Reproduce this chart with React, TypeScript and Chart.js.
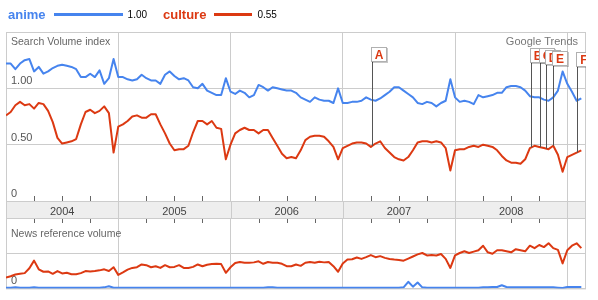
import React, { useEffect, useRef } from 'react';
import { Chart, registerables } from 'chart.js';

Chart.register(...registerables);

// ---- data (half-month periods starting Jan 2004) ----
const yearLabels = ['2004', '2005', '2006', '2007', '2008'];
const periodsPerYear = 24;
const xMax = 124;

const legendTerms = ['anime', 'culture'];
const legendTotals = [1.0, 0.55];

const animeSearch = [
  1.22, 1.22, 1.17, 1.22, 1.25, 1.26, 1.15, 1.19, 1.13, 1.15,
  1.18, 1.20, 1.21, 1.20, 1.19, 1.17, 1.10, 1.10, 1.13, 1.10,
  1.16, 1.04, 1.09, 1.26, 1.10, 1.10, 1.08, 1.07, 1.08, 1.12,
  1.09, 1.07, 1.07, 1.04, 1.12, 1.15, 1.11, 1.08, 1.09, 1.07,
  1.01, 1.00, 1.04, 0.98, 0.96, 0.94, 0.94, 1.09, 0.97, 0.95,
  0.98, 0.96, 0.92, 0.94, 1.03, 1.01, 0.98, 1.01, 1.00, 0.99,
  0.98, 0.98, 0.96, 0.92, 0.90, 0.88, 0.92, 0.90, 0.89, 0.89,
  0.87, 1.00, 0.87, 0.87, 0.88, 0.88, 0.89, 0.92, 0.90, 0.89,
  0.91, 0.94, 0.97, 1.01, 1.01, 0.98, 0.95, 0.92, 0.87, 0.86,
  0.88, 0.87, 0.84, 0.87, 0.89, 1.08, 0.92, 0.88, 0.89, 0.88,
  0.86, 0.94, 0.92, 0.93, 0.94, 0.96, 0.96, 1.01, 1.02, 1.02,
  1.01, 0.98, 0.93, 0.92, 0.92, 0.90, 0.89, 0.92, 0.98, 1.15,
  1.04, 0.97, 0.89, 0.91,
];

const cultureSearch = [
  0.76, 0.79, 0.85, 0.88, 0.85, 0.86, 0.82, 0.87, 0.86, 0.80,
  0.70, 0.56, 0.51, 0.52, 0.53, 0.55, 0.68, 0.79, 0.81, 0.78,
  0.80, 0.84, 0.78, 0.43, 0.66, 0.68, 0.71, 0.75, 0.76, 0.74,
  0.74, 0.77, 0.77, 0.68, 0.60, 0.51, 0.45, 0.46, 0.46, 0.49,
  0.61, 0.71, 0.71, 0.68, 0.71, 0.65, 0.64, 0.37, 0.50, 0.60,
  0.63, 0.65, 0.63, 0.63, 0.60, 0.63, 0.63, 0.56, 0.49, 0.42,
  0.38, 0.39, 0.38, 0.45, 0.54, 0.57, 0.58, 0.58, 0.57, 0.53,
  0.48, 0.37, 0.47, 0.49, 0.51, 0.52, 0.52, 0.51, 0.48, 0.51,
  0.53, 0.47, 0.43, 0.39, 0.37, 0.36, 0.39, 0.45, 0.52, 0.53,
  0.53, 0.52, 0.53, 0.52, 0.47, 0.27, 0.45, 0.46, 0.46, 0.48,
  0.49, 0.48, 0.50, 0.49, 0.48, 0.45, 0.40, 0.36, 0.34, 0.34,
  0.33, 0.37, 0.47, 0.49, 0.48, 0.47, 0.46, 0.49, 0.41, 0.26,
  0.39, 0.41, 0.43, 0.45,
];

const animeNews = [
  0.02, 0.02, 0.03, 0.02, 0.02, 0.02, 0.03, 0.02, 0.02, 0.02,
  0.02, 0.02, 0.02, 0.02, 0.02, 0.02, 0.02, 0.02, 0.02, 0.02,
  0.02, 0.03, 0.06, 0.02, 0.02, 0.02, 0.02, 0.02, 0.02, 0.02,
  0.02, 0.02, 0.02, 0.02, 0.02, 0.02, 0.02, 0.02, 0.02, 0.02,
  0.02, 0.02, 0.02, 0.02, 0.02, 0.02, 0.02, 0.02, 0.02, 0.02,
  0.02, 0.02, 0.02, 0.02, 0.02, 0.02, 0.03, 0.03, 0.02, 0.02,
  0.02, 0.02, 0.02, 0.02, 0.02, 0.02, 0.02, 0.02, 0.02, 0.02,
  0.02, 0.02, 0.02, 0.02, 0.02, 0.02, 0.02, 0.02, 0.02, 0.02,
  0.02, 0.02, 0.02, 0.02, 0.02, 0.03, 0.19, 0.05, 0.17, 0.03,
  0.02, 0.02, 0.02, 0.02, 0.02, 0.02, 0.02, 0.02, 0.02, 0.02,
  0.02, 0.02, 0.03, 0.03, 0.04, 0.04, 0.09, 0.04, 0.03, 0.03,
  0.03, 0.03, 0.03, 0.03, 0.03, 0.03, 0.03, 0.03, 0.02, 0.01,
  0.04, 0.04, 0.04, 0.04,
];

const cultureNews = [
  0.31, 0.35, 0.40, 0.42, 0.44, 0.58, 0.80, 0.55, 0.48, 0.49,
  0.42, 0.50, 0.43, 0.45, 0.41, 0.41, 0.44, 0.50, 0.49, 0.50,
  0.52, 0.55, 0.50, 0.61, 0.39, 0.46, 0.54, 0.59, 0.61, 0.69,
  0.67, 0.61, 0.64, 0.59, 0.67, 0.61, 0.62, 0.67, 0.59, 0.59,
  0.62, 0.69, 0.64, 0.68, 0.70, 0.71, 0.70, 0.45, 0.61, 0.73,
  0.76, 0.74, 0.74, 0.75, 0.78, 0.71, 0.76, 0.74, 0.74, 0.71,
  0.64, 0.64, 0.69, 0.65, 0.74, 0.76, 0.74, 0.77, 0.75, 0.76,
  0.64, 0.48, 0.72, 0.83, 0.84, 0.89, 0.85, 0.90, 0.96, 0.90,
  0.93, 0.88, 0.85, 0.83, 0.82, 0.80, 0.86, 0.92, 0.98, 1.02,
  0.95, 0.96, 0.95, 0.99, 0.85, 0.59, 0.95, 1.02, 1.07, 1.02,
  1.06, 1.10, 1.23, 1.04, 1.00, 1.10, 1.10, 1.07, 1.04, 1.13,
  1.10, 1.07, 1.23, 1.16, 1.25, 1.19, 1.30, 1.16, 1.11, 0.72,
  1.10, 1.23, 1.30, 1.16,
];

const flagLetters = ['A', 'B', 'C', 'D', 'E', 'F'];
const flagPeriods = [78.3, 112.3, 114.2, 115.5, 117.0, 122.0];

// ---- styles ----
const BLUE = '#4684ee';
const RED = '#dc3912';
const GRID = '#cccccc';
const FONT = "'Liberation Sans', Arial, Helvetica, sans-serif";
const FLAG_TOPS = [47, 48, 48, 50, 51, 52];

const toPoints = (arr: number[]) => arr.map((v, i) => ({ x: i, y: v }));
const yearBoundaries = () => yearLabels.map((_, k) => (k + 1) * periodsPerYear);
const quarterTicks = () => {
  const out: number[] = [];
  for (let q = 6; q < xMax; q += 6) if (q % periodsPerYear !== 0) out.push(q);
  return out;
};

const cultureAt = (p: number) => {
  const i0 = Math.floor(p);
  const f = p - i0;
  const a = cultureSearch[Math.min(i0, cultureSearch.length - 1)];
  const b = cultureSearch[Math.min(i0 + 1, cultureSearch.length - 1)];
  return a * (1 - f) + b * f;
};

const mainChrome = {
  id: 'mainChrome',
  beforeDraw(chart: any) {
    const { ctx, chartArea: a, scales } = chart;
    const xs = scales.x;
    ctx.save();
    const bandTop = a.bottom;
    const bandH = 18;
    ctx.fillStyle = '#eeeeee';
    ctx.fillRect(a.left, bandTop, a.right - a.left, bandH);
    ctx.strokeStyle = GRID;
    ctx.lineWidth = 1;
    ctx.beginPath();
    ctx.moveTo(a.left + 0.5, bandTop);
    ctx.lineTo(a.left + 0.5, bandTop + bandH);
    ctx.moveTo(a.right - 0.5, bandTop);
    ctx.lineTo(a.right - 0.5, bandTop + bandH);
    ctx.moveTo(a.left, bandTop + bandH - 0.5);
    ctx.lineTo(a.right, bandTop + bandH - 0.5);
    yearBoundaries().forEach((v) => {
      const px = Math.round(xs.getPixelForValue(v)) + 0.5;
      ctx.moveTo(px, bandTop);
      ctx.lineTo(px, bandTop + bandH);
    });
    ctx.stroke();
    ctx.restore();
  },
  beforeDatasetsDraw(chart: any) {
    const { ctx, chartArea: a, scales } = chart;
    const xs = scales.x;
    ctx.save();
    ctx.strokeStyle = GRID;
    ctx.lineWidth = 1;
    ctx.strokeRect(a.left + 0.5, a.top + 0.5, a.right - a.left - 1, a.bottom - a.top);
    ctx.strokeStyle = '#666666';
    ctx.beginPath();
    quarterTicks().forEach((v) => {
      const px = Math.round(xs.getPixelForValue(v)) + 0.5;
      ctx.moveTo(px, a.bottom - 5);
      ctx.lineTo(px, a.bottom);
    });
    ctx.stroke();
    ctx.restore();
  },
  afterDatasetsDraw(chart: any) {
    const { ctx, chartArea: a, scales } = chart;
    const xs = scales.x;
    const ys = scales.y;
    ctx.save();
    ctx.beginPath();
    ctx.rect(a.left, a.top, a.right - a.left, a.bottom - a.top);
    ctx.clip();
    flagLetters.forEach((letter, k) => {
      const p = flagPeriods[k];
      const lx = Math.round(xs.getPixelForValue(p)) + 0.5;
      const ly = ys.getPixelForValue(cultureAt(p));
      const top = FLAG_TOPS[k];
      const w = 16;
      const h = 15;
      const bx = lx - 1.5;
      ctx.strokeStyle = '#555555';
      ctx.lineWidth = 1;
      ctx.beginPath();
      ctx.moveTo(lx, top + h);
      ctx.lineTo(lx, ly);
      ctx.stroke();
      ctx.fillStyle = 'rgba(0,0,0,0.22)';
      ctx.fillRect(bx + 1, top + 1, w, h);
      ctx.fillStyle = '#ffffff';
      ctx.fillRect(bx, top, w, h);
      ctx.strokeStyle = '#b0b0b0';
      ctx.strokeRect(bx + 0.5, top + 0.5, w - 1, h - 1);
      ctx.fillStyle = RED;
      ctx.font = `bold 12px ${FONT}`;
      ctx.textAlign = 'center';
      ctx.textBaseline = 'middle';
      ctx.fillText(letter, bx + w / 2, top + h / 2 + 1);
    });
    ctx.restore();
  },
};

const newsChrome = {
  id: 'newsChrome',
  beforeDatasetsDraw(chart: any) {
    const { ctx, chartArea: a, scales } = chart;
    const xs = scales.x;
    ctx.save();
    ctx.strokeStyle = GRID;
    ctx.lineWidth = 1;
    ctx.strokeRect(a.left + 0.5, a.top - 0.5, a.right - a.left - 1, a.bottom - a.top + 1);
    ctx.strokeStyle = '#666666';
    ctx.beginPath();
    quarterTicks().forEach((v) => {
      const px = Math.round(xs.getPixelForValue(v)) + 0.5;
      ctx.moveTo(px, a.top);
      ctx.lineTo(px, a.top + 4);
    });
    ctx.stroke();
    ctx.restore();
  },
};

const lineDs = (label: string, arr: number[], color: string) => ({
  label,
  data: toPoints(arr),
  borderColor: color,
  backgroundColor: color,
  borderWidth: 2,
  pointRadius: 0,
  tension: 0,
  fill: false,
  borderJoinStyle: 'round' as const,
});

const tickFont = { family: FONT, size: 11 };

export default function App() {
  const mainRef = useRef<HTMLCanvasElement>(null);
  const newsRef = useRef<HTMLCanvasElement>(null);

  useEffect(() => {
    const main = new Chart(mainRef.current as HTMLCanvasElement, {
      type: 'line',
      data: {
        datasets: [
          lineDs(legendTerms[0], animeSearch, BLUE),
          lineDs(legendTerms[1], cultureSearch, RED),
        ],
      },
      options: {
        animation: false,
        responsive: false,
        devicePixelRatio: 1,
        events: [],
        layout: { padding: { left: 6, top: 32, right: 12, bottom: 81 } },
        plugins: { legend: { display: false }, tooltip: { enabled: false } },
        scales: {
          x: {
            type: 'linear',
            min: 0,
            max: xMax,
            position: 'bottom',
            afterBuildTicks: (s: any) => {
              s.ticks = yearLabels.map((_, k) => ({ value: k * periodsPerYear + periodsPerYear / 2 }));
            },
            afterFit: (s: any) => { s.height = 18; },
            ticks: {
              autoSkip: false,
              maxRotation: 0,
              padding: 4,
              color: '#444444',
              font: tickFont,
              callback: (v: any) => yearLabels[Math.floor(Number(v) / periodsPerYear)] ?? '',
            },
            grid: { display: false, drawTicks: false },
            border: { display: false },
          },
          xGrid: {
            type: 'linear',
            axis: 'x',
            min: 0,
            max: xMax,
            position: 'bottom',
            afterBuildTicks: (s: any) => { s.ticks = yearBoundaries().map((v) => ({ value: v })); },
            afterFit: (s: any) => { s.height = 0; },
            ticks: { display: false },
            grid: { color: GRID, drawTicks: false },
            border: { display: false },
          },
          y: {
            min: 0,
            max: 1.5,
            afterBuildTicks: (s: any) => { s.ticks = [0, 0.5, 1.0, 1.5].map((v) => ({ value: v })); },
            afterFit: (s: any) => { s.width = 0; },
            ticks: {
              mirror: true,
              padding: 5,
              labelOffset: -7,
              color: '#555555',
              font: tickFont,
              callback: (v: any) => (Number(v) === 0 ? '0' : Number(v) >= 1.5 ? '' : Number(v).toFixed(2)),
            },
            grid: { color: GRID, drawTicks: false },
            border: { display: false },
          },
        },
      } as any,
      plugins: [mainChrome],
    });

    const news = new Chart(newsRef.current as HTMLCanvasElement, {
      type: 'line',
      data: {
        datasets: [
          lineDs(legendTerms[0], animeNews, BLUE),
          lineDs(legendTerms[1], cultureNews, RED),
        ],
      },
      options: {
        animation: false,
        responsive: false,
        devicePixelRatio: 1,
        events: [],
        layout: { padding: { left: 6, top: 219, right: 12, bottom: 8 } },
        plugins: { legend: { display: false }, tooltip: { enabled: false } },
        scales: {
          x: {
            type: 'linear',
            min: 0,
            max: xMax,
            afterBuildTicks: (s: any) => { s.ticks = yearBoundaries().map((v) => ({ value: v })); },
            afterFit: (s: any) => { s.height = 0; },
            ticks: { display: false },
            grid: { color: GRID, drawTicks: false },
            border: { display: false },
          },
          y: {
            min: 0,
            max: 2,
            afterBuildTicks: (s: any) => { s.ticks = [{ value: 0 }, { value: 1 }]; },
            afterFit: (s: any) => { s.width = 0; },
            ticks: {
              mirror: true,
              padding: 5,
              labelOffset: -7,
              color: '#555555',
              font: tickFont,
              callback: (v: any) => (Number(v) === 0 ? '0' : ''),
            },
            grid: { color: GRID, drawTicks: false },
            border: { display: false },
          },
        },
      } as any,
      plugins: [newsChrome],
    });

    return () => {
      main.destroy();
      news.destroy();
    };
  }, []);

  const legendColors = [BLUE, RED];

  return (
    <div
      style={{
        position: 'absolute',
        left: 0,
        top: 0,
        width: 598,
        height: 300,
        background: '#ffffff',
        overflow: 'hidden',
        fontFamily: FONT,
      }}
    >
      <canvas ref={mainRef} width={598} height={300} style={{ position: 'absolute', left: 0, top: 0 }} />
      <canvas ref={newsRef} width={598} height={300} style={{ position: 'absolute', left: 0, top: 0 }} />
      <div style={{ position: 'absolute', left: 8, top: 8, display: 'flex', alignItems: 'flex-start', whiteSpace: 'nowrap' }}>
        {legendTerms.map((term, k) => (
          <React.Fragment key={term}>
            <span style={{ fontWeight: 'bold', fontSize: 13, lineHeight: '13px', color: legendColors[k] }}>{term}</span>
            <span
              style={{
                display: 'block',
                marginTop: 5,
                marginLeft: 8,
                marginRight: 5,
                width: Math.round(69 * legendTotals[k]),
                height: 3,
                background: legendColors[k],
              }}
            />
            <span style={{ fontSize: 10, lineHeight: '10px', marginTop: 2, marginRight: 16, color: '#000' }}>
              {legendTotals[k].toFixed(2)}
            </span>
          </React.Fragment>
        ))}
      </div>
      <div style={{ position: 'absolute', left: 11, top: 36, fontSize: 10.5, lineHeight: '11px', color: '#666666', whiteSpace: 'nowrap' }}>
        Search Volume index
      </div>
      <div style={{ position: 'absolute', right: 20, top: 36, fontSize: 11, lineHeight: '11px', color: '#777777', whiteSpace: 'nowrap' }}>
        Google Trends
      </div>
      <div style={{ position: 'absolute', left: 11, top: 228, fontSize: 10.5, lineHeight: '11px', color: '#666666', whiteSpace: 'nowrap' }}>
        News reference volume
      </div>
    </div>
  );
}
